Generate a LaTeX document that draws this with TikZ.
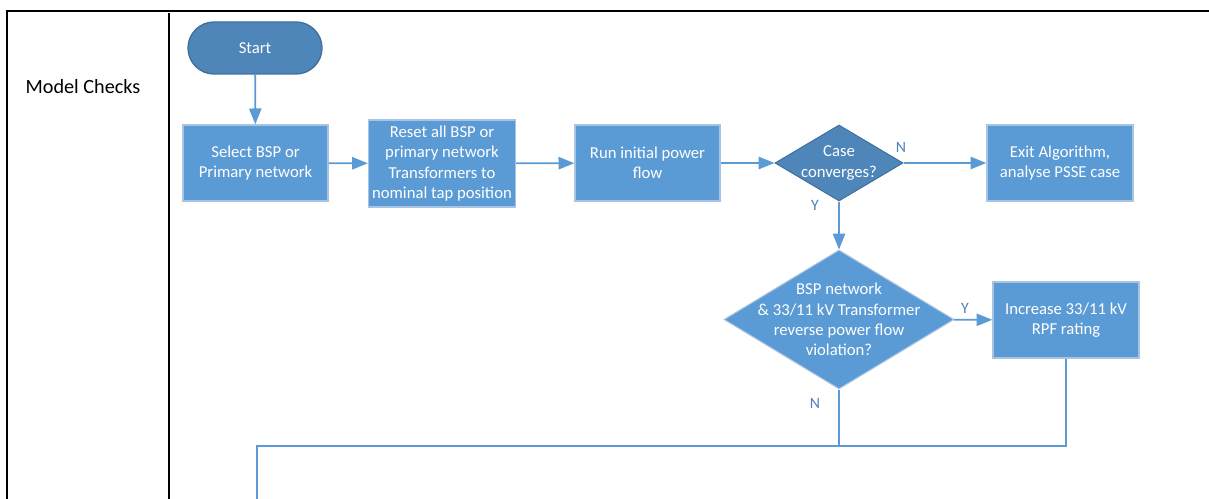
\documentclass[tikz,border=0pt]{standalone}
\usepackage{fontspec}
\setmainfont{Carlito}
\usepackage{tikz}
\usetikzlibrary{shapes.geometric,shapes.misc,arrows.meta}
\definecolor{FlowBlue}{HTML}{5B9BD5}
\definecolor{FlowDark}{HTML}{4F86B9}
\definecolor{FlowEdge}{HTML}{A9C4E2}
\definecolor{FlowDarkEdge}{HTML}{41719C}
\definecolor{FlowLabel}{HTML}{4F81BD}
\tikzset{
    % Process box
    processnode/.style={
        rectangle,
        draw=FlowEdge,
        fill=FlowBlue,
        line width=0.8pt,
        minimum width=2.92cm,
        minimum height=1.52cm,
        inner sep=2pt,
        align=center,
        text=white,
        font=\fontsize{9.5}{11.5}\selectfont
    },
    % Start terminal
    startnode/.style={
        processnode,
        rounded rectangle,
        draw=FlowDarkEdge,
        fill=FlowDark,
        minimum width=2.82cm,
        minimum height=1.04cm
    },
    % Decision diamond
    decisionnode/.style={
        diamond,
        draw=FlowEdge,
        fill=FlowBlue,
        line width=0.6pt,
        inner sep=-0.25cm,
        align=center,
        text=white,
        font=\fontsize{9.5}{11.5}\selectfont
    },
    % Branch label
    branchlabel/.style={
        text=FlowLabel,
        font=\fontsize{9}{11}\selectfont
    },
    % Connectors
    flowarrow/.style={
        -{Triangle[length=9pt,width=7pt]},
        line width=1pt,
        draw=FlowBlue
    },
    flowline/.style={
        line width=1pt,
        draw=FlowBlue
    }
}
\begin{document}
\begin{tikzpicture}[x=0.02cm, y=-0.02cm]
        \useasboundingbox (0,0) rectangle (1209,499);

        % Table frame
        \draw[line width=1.2pt] (7,499) -- (7,11) -- (1209,11);
        \draw[line width=0.6pt] (169,13) -- (169,499);
        \node[font=\fontsize{11.5}{14}\selectfont] (lane) at (83,87) {Model Checks};

        % Flow nodes
        \node[startnode] (start) at (255,48) {Start};
        \node[processnode, minimum width=2.9cm] (select) at (255.5,163) {Select BSP or\\Primary network};
        \node[processnode, minimum height=1.74cm] (reset) at (442,163.5) {Reset all BSP or\\primary network\\Transformers to\\nominal tap position};
        \node[processnode, minimum width=2.9cm] (runpf) at (647.5,163) {Run initial power\\flow};
        \node[decisionnode, fill=FlowDark, draw=FlowDarkEdge, aspect=1.68, minimum width=2.56cm, minimum height=1.52cm] (conv) at (839,163) {Case\\converges?};
        \node[processnode] (exit) at (1060,163) {Exit Algorithm,\\analyse PSSE case};
        \node[decisionnode, aspect=1.65, minimum width=4.6cm, minimum height=2.78cm] (rpf) at (839,319.5) {BSP network\\\& 33/11 kV Transformer\\reverse power flow\\violation?};
        \node[processnode] (incr) at (1066,320) {Increase 33/11 kV\\RPF rating};

        % Branch labels
        \node[branchlabel] (convn) at (901,147) {N};
        \node[branchlabel] (convy) at (815,205) {Y};
        \node[branchlabel] (rpfy) at (965,308) {Y};
        \node[branchlabel] (rpfn) at (815,403) {N};

        % Arrows
        \draw[flowarrow] (start) -- (select);
        \draw[flowarrow] (select) -- (reset);
        \draw[flowarrow] (reset) -- (runpf);
        \draw[flowarrow] (runpf) -- (conv);
        \draw[flowarrow] (conv) -- (exit);
        \draw[flowarrow] (conv) -- (rpf);
        \draw[flowarrow] (rpf) -- (incr);

        % Merge back
        \coordinate (merge) at (839,446);
        \coordinate (turn) at (257,446);
        \coordinate (off) at (257,499);
        \draw[flowline] (rpf.south) -- (merge);
        \draw[flowline] (incr.south) |- (merge);
        \draw[flowline] (merge) -- (turn) -- (off);
    \end{tikzpicture}
\end{document}
